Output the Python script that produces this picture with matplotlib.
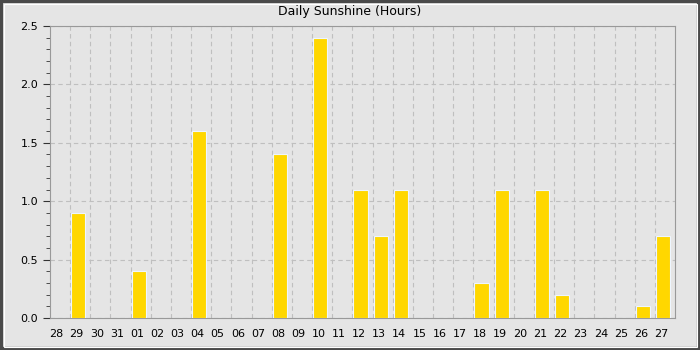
# Daily sunshine bar chart

import matplotlib.pyplot as plt
from matplotlib.patches import Rectangle
from matplotlib.ticker import MultipleLocator

# day labels and sunshine hours
days = ['28', '29', '30', '31', '01', '02', '03', '04', '05', '06', '07', '08',
        '09', '10', '11', '12', '13', '14', '15', '16', '17', '18', '19', '20',
        '21', '22', '23', '24', '25', '26', '27']
hours = [0, 0.9, 0, 0, 0.4, 0, 0, 1.6, 0, 0, 0, 1.4,
         0, 2.4, 0, 1.1, 0.7, 1.1, 0, 0, 0, 0.3, 1.1, 0,
         1.1, 0.2, 0, 0, 0, 0.1, 0.7]

bg = '#e5e5e5'
fig = plt.figure(figsize=(7, 3.5), dpi=100, facecolor=bg)
ax = fig.add_axes([50 / 700, 1 - 318 / 350, 625 / 700, 292 / 350], facecolor=bg)

# outer dark frame and thin white inner line
fig.patches.append(Rectangle((0, 0), 1, 1, transform=fig.transFigure, fill=False,
                             edgecolor='#4a4a4a', linewidth=4.5, zorder=10))
fig.patches.append(Rectangle((3.5 / 700, 3.5 / 350), 693 / 700, 343 / 350,
                             transform=fig.transFigure, fill=False,
                             edgecolor='white', linewidth=0.8, zorder=10))

x = list(range(len(days)))
ax.bar([i + 0.05 for i in x], hours, width=0.7, align='edge',
       color='#ffd700', edgecolor='#eef6ff', linewidth=0.8, zorder=3)

ax.set_xlim(0, len(days))
ax.set_ylim(0, 2.5)

# grid lines sit between the days
ax.set_xticks(range(1, len(days)), minor=True)
ax.set_xticks([i + 0.32 for i in x])
ax.set_xticklabels(days)
ax.tick_params(axis='x', which='both', length=0, labelsize=8, pad=8)
ax.grid(True, axis='x', which='minor', linestyle=(0, (4, 3)), color='#bfbfbf', linewidth=0.8)

ax.yaxis.set_major_locator(MultipleLocator(0.5))
ax.yaxis.set_minor_locator(MultipleLocator(0.1))
ax.yaxis.set_major_formatter(plt.FormatStrFormatter('%.1f'))
ax.tick_params(axis='y', which='major', length=5, labelsize=8, color='#333333')
ax.tick_params(axis='y', which='minor', length=3, color='#333333')
ax.grid(True, axis='y', which='major', linestyle=(0, (4, 3)), color='#bfbfbf', linewidth=0.8)
ax.set_axisbelow(True)

for s in ax.spines.values():
    s.set_color('#999999')

fig.text(0.5, 1 - 12 / 350, 'Daily Sunshine (Hours)', ha='center', va='center', fontsize=9)

fig.savefig('out.png', dpi=100, facecolor=bg)
